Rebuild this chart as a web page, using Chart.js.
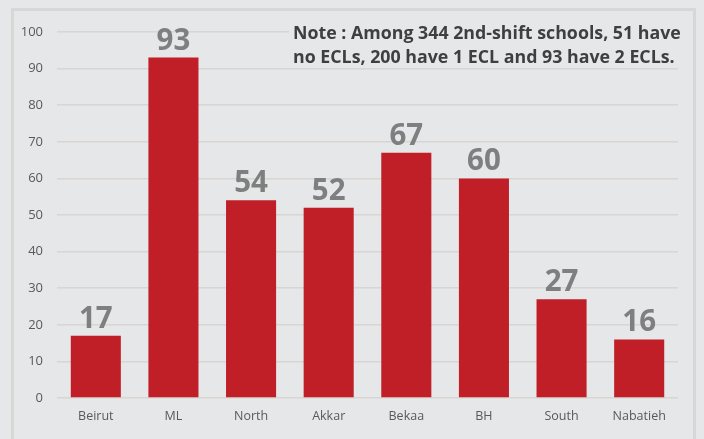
<!DOCTYPE html>
<html>
<head>
<meta charset="utf-8">
<script src="https://cdn.jsdelivr.net/npm/chart.js@4"></script>
<style>
  html, body { margin: 0; padding: 0; background: #e6e7e9; }
  #wrap { position: relative; width: 704px; height: 439px; overflow: hidden; }
  #frame { position: absolute; left: 11px; top: 8px; width: 679px; height: 460px; border: 3px solid #d7d7d5; }
  canvas { position: absolute; left: 0; top: 0; }
</style>
</head>
<body>
<div id="wrap">
  <div id="frame"></div>
  <canvas id="chart" width="704" height="439"></canvas>
</div>
<script>
const regions = ['Beirut', 'ML', 'North', 'Akkar', 'Bekaa', 'BH', 'South', 'Nabatieh'];
const schools = [17, 93, 54, 52, 67, 60, 27, 16];
const yTicks = [0, 10, 20, 30, 40, 50, 60, 70, 80, 90, 100];
const noteLines = ['Among 344 2nd-shift schools, 51 have', 'no ECLs, 200 have 1 ECL and 93 have 2 ECLs.'];

// note box drawn over the grid, value labels drawn above bars
const extras = {
  id: 'extras',
  beforeDatasetsDraw(chart) {
    const ctx = chart.ctx;
    ctx.save();
    ctx.fillStyle = '#e6e7e9';
    ctx.fillRect(289, 18, 400, 48);
    ctx.fillStyle = '#3f3f3f';
    ctx.textBaseline = 'alphabetic';
    ctx.font = 'bold 17.8px "Open Sans"';
    const lead = 'Note';
    ctx.fillText(lead, 293, 39);
    let w = ctx.measureText(lead).width;
    ctx.fillText(' : ' + noteLines[0], 293 + w, 39);
    ctx.fillText(noteLines[1], 293, 63);
    ctx.restore();
  },
  afterDatasetsDraw(chart) {
    const ctx = chart.ctx;
    const meta = chart.getDatasetMeta(0);
    ctx.save();
    ctx.fillStyle = '#7f7f7f';
    ctx.font = 'bold 29.5px "Open Sans"';
    ctx.textAlign = 'center';
    ctx.textBaseline = 'alphabetic';
    meta.data.forEach((bar, i) => {
      ctx.fillText(String(schools[i]), bar.x, bar.y - 8);
    });
    ctx.restore();
  }
};

new Chart(document.getElementById('chart'), {
  type: 'bar',
  data: {
    labels: regions,
    datasets: [{
      data: schools,
      backgroundColor: '#c01f28',
      barPercentage: 0.645,
      categoryPercentage: 1
    }]
  },
  options: {
    responsive: false,
    animation: false,
    layout: { padding: { top: 32, right: 26, left: 0, bottom: 0 } },
    plugins: { legend: { display: false }, tooltip: { enabled: false } },
    scales: {
      x: {
        afterFit(scale) { scale.height = 41; },
        grid: { display: false },
        border: { display: false },
        ticks: { color: '#595959', font: { family: 'Open Sans', size: 12.5 }, padding: 3 }
      },
      y: {
        min: 0,
        max: 100,
        afterFit(scale) { scale.width = 57; },
        afterBuildTicks(scale) { scale.ticks = yTicks.map(v => ({ value: v })); },
        grid: { color: '#d9d6d1', lineWidth: 1.5, drawTicks: false },
        border: { display: false },
        ticks: { color: '#595959', font: { family: 'Open Sans', size: 13 }, padding: 14 }
      }
    }
  },
  plugins: [extras]
});
</script>
</body>
</html>
